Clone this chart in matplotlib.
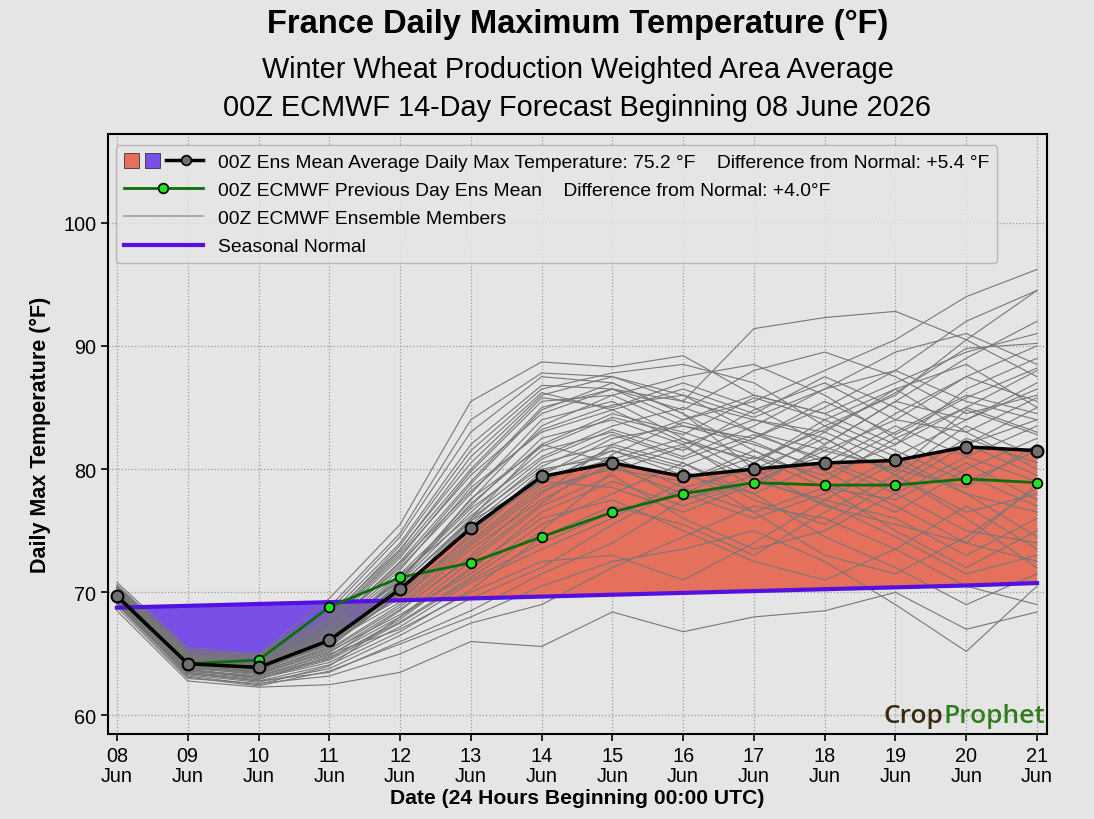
import matplotlib
matplotlib.use("Agg")
import matplotlib.pyplot as plt
from matplotlib.patches import Rectangle, Patch
from matplotlib.lines import Line2D
import numpy as np

# ---------------- data ----------------
days = ["08\nJun", "09\nJun", "10\nJun", "11\nJun", "12\nJun", "13\nJun", "14\nJun",
        "15\nJun", "16\nJun", "17\nJun", "18\nJun", "19\nJun", "20\nJun", "21\nJun"]

ens_mean = [69.7, 64.2, 63.9, 66.1, 70.25, 75.2, 79.4, 80.5, 79.4, 80.0, 80.5, 80.7, 81.8, 81.5]
prev_mean = [69.6, 64.2, 64.5, 68.8, 71.2, 72.4, 74.5, 76.5, 78.0, 78.9, 78.7, 78.7, 79.2, 78.9]
normal = [68.75, 68.9, 69.05, 69.2, 69.35, 69.5, 69.65, 69.8, 69.95, 70.1, 70.25, 70.4, 70.55, 70.75]

members = [
    [69.8, 64.0, 63.5, 65.5, 70.0, 76.0, 82.0, 84.5, 83.0, 81.0, 79.5, 82.0, 85.0, 88.0],
    [70.2, 64.8, 64.2, 67.0, 72.5, 79.0, 85.0, 86.5, 85.5, 84.0, 83.0, 80.5, 78.0, 76.5],
    [69.5, 63.8, 63.0, 64.5, 67.5, 71.0, 74.0, 76.5, 78.0, 80.5, 83.5, 86.0, 90.5, 94.5],
    [70.5, 65.2, 64.8, 68.5, 74.5, 83.0, 87.5, 87.0, 84.5, 80.0, 77.0, 75.5, 74.0, 72.5],
    [69.0, 63.5, 62.8, 63.5, 66.0, 68.5, 71.5, 74.0, 77.5, 79.0, 81.5, 84.0, 83.0, 80.0],
    [69.9, 64.5, 64.0, 66.5, 71.0, 77.5, 83.5, 86.0, 87.5, 88.5, 86.0, 82.5, 79.5, 77.0],
    [70.0, 64.2, 63.8, 65.8, 70.5, 75.0, 79.0, 81.5, 80.0, 76.5, 73.0, 71.5, 74.5, 78.5],
    [69.3, 63.2, 62.5, 64.0, 68.0, 72.5, 77.0, 79.5, 76.0, 73.5, 75.0, 78.0, 81.0, 83.5],
    [70.8, 65.5, 65.0, 69.5, 75.5, 85.5, 88.7, 88.3, 89.2, 86.0, 84.5, 87.0, 89.5, 91.0],
    [69.6, 64.0, 63.6, 66.0, 70.8, 76.5, 81.5, 83.0, 81.0, 83.5, 86.5, 88.0, 85.5, 84.0],
    [68.8, 63.0, 62.6, 63.2, 65.0, 67.5, 69.0, 72.0, 74.5, 77.0, 76.0, 73.5, 70.5, 69.0],
    [70.1, 64.6, 64.2, 67.2, 72.0, 78.0, 84.0, 85.5, 82.5, 79.5, 81.0, 84.5, 87.5, 85.5],
    [69.7, 64.3, 63.9, 66.2, 69.5, 74.0, 78.5, 80.0, 79.0, 81.5, 79.0, 76.5, 80.0, 82.5],
    [69.2, 63.4, 62.9, 64.8, 68.5, 73.0, 78.0, 82.0, 84.0, 85.5, 88.0, 90.5, 94.0, 96.2],
    [70.4, 65.0, 64.6, 68.0, 73.5, 80.5, 86.0, 87.5, 86.0, 83.0, 80.5, 78.0, 75.0, 74.0],
    [69.4, 63.7, 63.2, 65.0, 67.0, 70.0, 72.5, 73.0, 71.0, 74.0, 77.5, 80.5, 82.0, 79.5],
    [69.8, 64.4, 63.9, 66.8, 71.5, 77.0, 82.5, 84.0, 82.0, 78.5, 82.0, 85.5, 84.0, 86.5],
    [70.3, 64.9, 64.4, 67.5, 73.0, 79.5, 84.5, 86.5, 84.0, 86.0, 84.5, 82.0, 86.5, 89.0],
    [69.5, 63.9, 63.3, 65.2, 68.2, 71.5, 75.5, 78.0, 80.5, 78.0, 74.5, 72.0, 69.0, 71.5],
    [69.9, 64.1, 63.7, 65.7, 70.2, 75.5, 80.0, 81.0, 78.5, 80.0, 82.5, 79.5, 83.5, 81.0],
    [70.6, 65.3, 64.9, 68.8, 74.8, 84.0, 87.8, 87.5, 85.5, 91.4, 92.3, 92.8, 90.5, 87.5],
    [69.1, 63.3, 62.7, 63.8, 66.5, 69.5, 72.0, 75.5, 78.5, 76.5, 78.5, 75.0, 72.0, 75.0],
    [69.6, 64.2, 63.8, 66.0, 70.0, 74.5, 79.5, 82.5, 83.5, 82.0, 80.0, 83.0, 86.0, 84.5],
    [70.0, 64.7, 64.1, 66.9, 71.8, 78.5, 83.0, 84.8, 86.5, 84.5, 87.5, 85.0, 82.0, 85.0],
    [68.5, 62.8, 62.3, 62.5, 63.5, 66.0, 65.6, 68.4, 66.8, 68.0, 68.5, 70.0, 67.0, 68.4],
    [69.7, 64.1, 63.5, 65.6, 69.8, 75.8, 80.5, 82.0, 80.5, 77.5, 75.5, 79.0, 82.5, 80.5],
    [70.2, 64.6, 64.3, 67.3, 72.8, 79.8, 85.5, 86.0, 83.5, 82.5, 85.0, 88.0, 92.0, 94.5],
    [69.3, 63.6, 63.1, 64.6, 67.8, 72.0, 76.0, 77.5, 75.0, 72.5, 71.0, 73.5, 77.0, 73.5],
    [69.8, 64.3, 63.9, 66.4, 71.2, 76.8, 81.0, 83.5, 85.0, 83.0, 81.5, 80.0, 78.5, 82.0],
    [70.4, 64.9, 64.5, 67.8, 73.8, 81.5, 86.5, 87.8, 88.5, 87.0, 83.5, 81.0, 84.0, 87.0],
    [69.5, 63.8, 63.4, 65.3, 68.8, 73.5, 77.5, 80.5, 82.0, 84.0, 82.5, 79.5, 76.5, 78.0],
    [69.9, 64.5, 64.0, 66.6, 70.9, 77.2, 82.0, 80.5, 77.5, 79.5, 83.0, 86.5, 88.5, 85.0],
    [69.0, 63.1, 62.4, 63.6, 65.8, 68.0, 70.5, 72.5, 73.5, 75.0, 72.5, 69.0, 65.2, 70.5],
    [70.1, 64.7, 64.3, 67.0, 72.2, 78.8, 84.8, 87.0, 84.5, 81.5, 79.0, 82.5, 85.0, 83.0],
    [69.6, 64.0, 63.6, 65.9, 69.2, 74.8, 79.8, 81.5, 79.5, 78.0, 80.5, 83.5, 81.0, 79.0],
    [70.0, 64.4, 64.0, 66.3, 71.4, 76.2, 80.8, 83.2, 81.5, 84.8, 87.0, 84.0, 87.5, 90.0],
    [69.4, 63.7, 63.2, 64.9, 68.0, 71.8, 76.5, 79.0, 77.0, 79.0, 77.5, 76.0, 73.0, 76.0],
    [70.3, 64.8, 64.4, 67.6, 73.2, 80.0, 85.8, 85.0, 87.0, 85.0, 82.0, 85.5, 89.0, 92.0],
    [69.7, 64.2, 63.7, 66.1, 70.4, 75.2, 79.2, 80.8, 82.5, 80.5, 84.0, 81.5, 79.0, 81.5],
    [69.2, 63.5, 63.0, 64.3, 67.2, 70.8, 73.5, 76.0, 79.0, 81.0, 78.5, 77.5, 80.5, 77.5],
    [70.5, 65.1, 64.7, 68.2, 74.0, 82.0, 86.8, 86.5, 84.8, 88.0, 89.5, 87.5, 84.5, 86.0],
    [69.8, 64.2, 63.8, 66.3, 70.6, 76.0, 80.2, 82.8, 80.8, 82.8, 80.8, 78.5, 82.0, 84.0],
    [69.1, 63.4, 62.8, 64.1, 66.8, 70.2, 74.5, 77.0, 75.5, 73.0, 76.5, 79.5, 76.0, 72.0],
    [70.2, 64.6, 64.1, 67.1, 72.4, 78.2, 83.2, 85.2, 86.0, 84.2, 86.5, 89.5, 91.0, 88.5],
    [69.5, 63.9, 63.5, 65.4, 69.0, 73.8, 78.2, 80.2, 78.0, 76.0, 78.0, 81.0, 78.0, 74.5],
    [69.9, 64.5, 64.1, 66.7, 71.0, 77.6, 81.8, 84.2, 82.8, 85.8, 84.0, 86.5, 83.0, 85.8],
    [70.0, 64.3, 63.8, 66.0, 70.6, 75.8, 79.0, 78.5, 76.5, 78.8, 81.8, 79.8, 84.8, 82.8],
    [69.6, 64.0, 63.4, 65.1, 68.6, 72.8, 77.2, 81.2, 83.8, 82.2, 79.8, 77.0, 74.0, 78.8],
    [70.4, 64.8, 64.5, 67.7, 73.4, 81.0, 86.2, 84.8, 82.2, 80.8, 83.2, 86.2, 89.8, 90.2],
    [69.3, 63.6, 63.2, 64.7, 67.6, 71.2, 75.0, 79.8, 81.8, 79.2, 77.2, 74.5, 71.5, 73.0],
    [69.7, 64.1, 63.6, 65.8, 69.8, 74.2, 78.8, 81.8, 80.2, 82.5, 85.5, 82.8, 85.8, 88.2],
]

yticks = [60, 70, 80, 90, 100]

title1 = "France Daily Maximum Temperature (°F)"
title2 = "Winter Wheat Production Weighted Area Average"
title3 = "00Z ECMWF 14-Day Forecast Beginning 08 June 2026"
lab_mean = "00Z Ens Mean Average Daily Max Temperature: 75.2 °F    Difference from Normal: +5.4 °F"
lab_prev = "00Z ECMWF Previous Day Ens Mean    Difference from Normal: +4.0°F"
lab_mem = "00Z ECMWF Ensemble Members"
lab_norm = "Seasonal Normal"

# ---------------- style ----------------
BG = "#e5e5e5"
RED = "#e5705c"
PURPLE = "#7a4fe8"
NORMAL_C = "#5310e0"
plt.rcParams["font.family"] = ["Liberation Sans", "DejaVu Sans"]

fig = plt.figure(figsize=(10.94, 8.2), dpi=100, facecolor=BG)
ax = fig.add_axes([0.0987, 0.1037, 0.8583, 0.7317], facecolor=BG)

x = np.arange(len(days))
em = np.array(ens_mean)
nm = np.array(normal)

ax.fill_between(x, em, nm, where=em >= nm, interpolate=True, color=RED, lw=0, zorder=1)
ax.fill_between(x, em, nm, where=em <= nm, interpolate=True, color=PURPLE, lw=0, zorder=1)

for m in members:
    ax.plot(x, m, color="#777777", lw=0.8, zorder=2)

ax.plot(x, normal, color=NORMAL_C, lw=3, zorder=3)
ax.plot(x, prev_mean, color="#0b6e0b", lw=2, marker="o", ms=7,
        mfc="#22e022", mec="black", mew=1.2, zorder=4)
ax.plot(x, ens_mean, color="black", lw=2.5, marker="o", ms=8.5,
        mfc="#707070", mec="black", mew=1.5, zorder=5)

ax.set_xlim(-0.127, 13.14)
ax.set_ylim(58.5, 107.2)
ax.set_xticks(x)
ax.set_xticklabels(days, fontsize=14.3, linespacing=1.1)
ax.set_yticks(yticks)
ax.set_yticklabels([str(v) for v in yticks], fontsize=14.3)
ax.tick_params(direction="out", length=5, width=1.2)
ax.grid(True, linestyle=":", color="#9a9a9a", lw=0.9)
ax.set_axisbelow(True)
for s in ax.spines.values():
    s.set_linewidth(1.5)
    s.set_color("black")

ax.set_ylabel("Daily Max Temperature (°F)", fontsize=15.5, fontweight="bold", labelpad=9)
ax.set_xlabel("Date (24 Hours Beginning 00:00 UTC)", fontsize=15.2, fontweight="bold", labelpad=2)

ax.text(0.5, 1.0 + (135 - 25) / 600.0, title1, transform=ax.transAxes, ha="center", va="center",
        fontsize=23.5, fontweight="bold")
ax.text(0.5, 1.0 + (135 - 70) / 600.0, title2, transform=ax.transAxes, ha="center", va="center",
        fontsize=20.8)
ax.text(0.5, 1.0 + (135 - 108) / 600.0, title3, transform=ax.transAxes, ha="center", va="center",
        fontsize=20.8)


# ---------------- legend ----------------
class HandlerEns:
    def legend_artist(self, legend, orig_handle, fontsize, handlebox):
        x0, y0 = handlebox.xdescent, handlebox.ydescent
        w, h = handlebox.width, handlebox.height
        tr = handlebox.get_transform()
        s = w * 0.19
        yc = y0 + h / 2
        r1 = Rectangle((x0, yc - s / 2), s, s, fc=RED, ec="#333333", lw=0.6, transform=tr)
        r2 = Rectangle((x0 + w * 0.27, yc - s / 2), s, s, fc=PURPLE, ec="#333333", lw=0.6, transform=tr)
        l1 = Line2D([x0 + w * 0.53, x0 + w], [yc, yc], color="black", lw=2.5, transform=tr)
        mk = Line2D([x0 + w * 0.78], [yc], marker="o", ms=7, mfc="#707070", mec="black",
                    mew=1.2, lw=0, transform=tr)
        for a in (r1, r2, l1, mk):
            handlebox.add_artist(a)
        return r1


ens_handle = Patch()
prev_handle = Line2D([], [], color="#0b6e0b", lw=2, marker="o", ms=7, mfc="#22e022",
                     mec="black", mew=1.2)
mem_handle = Line2D([], [], color="#a0a0a0", lw=1.2)
norm_handle = Line2D([], [], color=NORMAL_C, lw=3)

leg = ax.legend([ens_handle, prev_handle, mem_handle, norm_handle],
                [lab_mean, lab_prev, lab_mem, lab_norm],
                handler_map={ens_handle: HandlerEns()},
                loc="upper left", bbox_to_anchor=(0.0, 0.0, 1, 0.994),
                fontsize=13.9, handlelength=4.1, handletextpad=0.78,
                labelspacing=0.55, borderpad=0.42, borderaxespad=0.4,
                frameon=True, fancybox=True, framealpha=0.85,
                facecolor=BG, edgecolor="#b0b0b0", markerfirst=True)
leg.set_zorder(10)

# ---------------- logo ----------------
t2 = ax.text(0.998, 0.02, "Prophet", transform=ax.transAxes, ha="right", va="baseline",
             fontsize=19, color="#2f7d1f", family="Open Sans", fontweight="semibold", zorder=11)
ax.annotate("Crop", xy=(0, 0), xycoords=t2, ha="right", va="bottom",
            fontsize=19, color="#3b2a12", family="Open Sans", fontweight="semibold", zorder=11)

fig.savefig("out.png", dpi=100, facecolor=BG)
